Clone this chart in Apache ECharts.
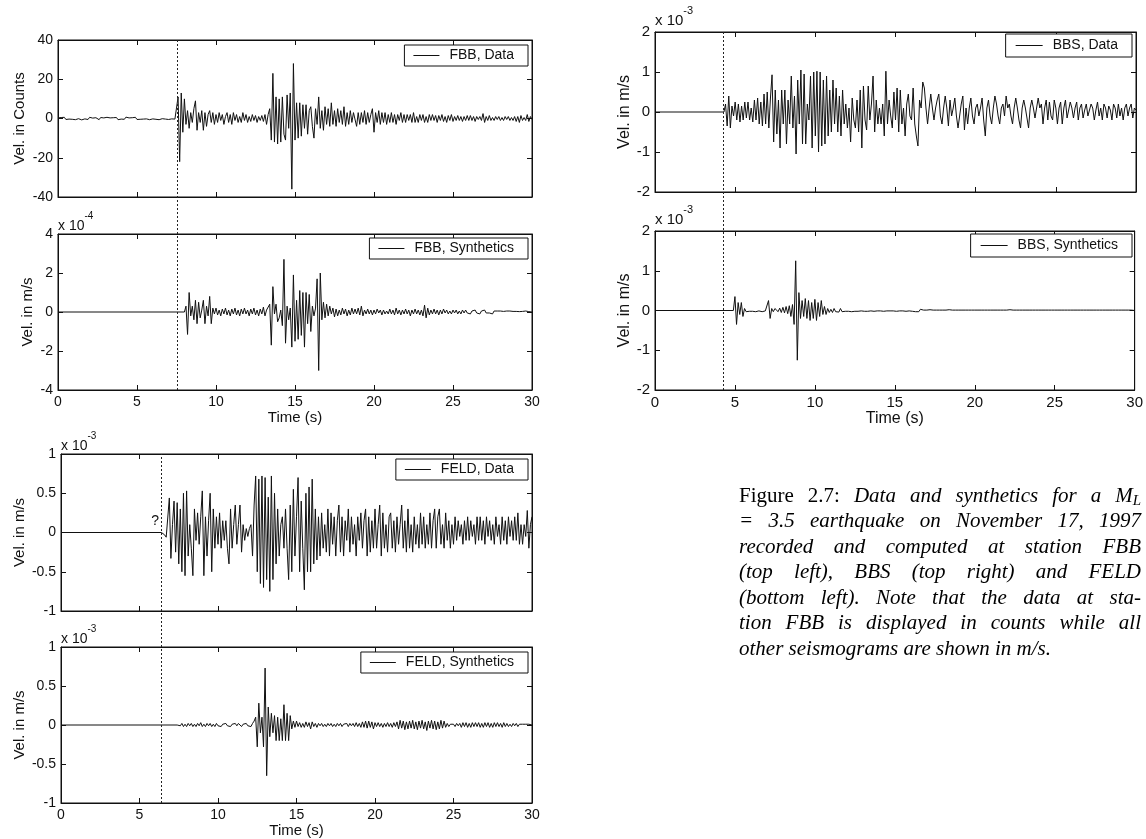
<!DOCTYPE html>
<html><head><meta charset="utf-8">
<script src="https://cdn.jsdelivr.net/npm/echarts@6/dist/echarts.min.js"></script>
<style>html,body{margin:0;padding:0;background:#fff}#chart{width:1146px;height:839px}</style>
</head><body><div id="chart"></div>
<script>
// ---------------- DATA ----------------
const STEP = 0.1;                 // sample interval of all traces (s)
const timeTicks = [0, 30, 5];     // time axis: min, max, interval

// FBB, Data (counts), samples from t = 0.0 s
const fbbDataStart = 0.0;
const fbbData = [
 0.3,-0.4,0.5,-0.2,0.6,-0.5,0.2,-0.3,0.7,-0.4,
 0.2,-0.6,0.4,-0.1,0.5,-0.7,0.3,-0.2,0.4,-0.5,
 0.6,-0.3,0.2,-0.5,0.4,0.1,-0.6,0.5,-0.3,0.3,
 -0.4,0.6,-0.2,0.3,-0.5,0.4,-0.3,0.5,-0.6,0.2,
 -0.3,0.5,-0.4,0.7,-0.2,0.3,-0.5,0.4,-0.3,0.6,
 -0.5,0.2,-0.4,0.5,-0.3,0.6,-0.2,0.4,-0.6,0.3,
 -0.2,0.5,-0.4,0.3,-0.6,0.4,-0.1,0.6,-0.3,0.2,
 -0.5,0.4,-0.2,0.6,-0.3,0.5,11,-22,13,-7,
 10,-3,4,-5,3,-2,5,9,-6,3,
 -2,4,-6,3,-4,2,4,-2,3,-3,
 2,-2,3,-1,2,-3,1,3,-2,2,
 -3,3,-1,2,-2,1,-2,3,-1,2,
 -2,1,-1.5,2,-1,1.5,-2,1,-1,1.5,
 -1.5,2,-3,2,5,-11,23,-12,11,-13,
 10,-12,11,-8,-11,12,-5,13,-36,28,
 -11,8,-10,8,-9,7,-5,7,-8,4,
 6,-4,-10,5,-3,11,-5,4,-6,6,
 -3,5,-4,8,-3,4,-4,5,-2,4,
 -3,6,-4,3,-3,4,-2,3,4,-4,
 3,-3,3,-2,4,-3,3,-2,2,5,
 -7,3,-2,4,-3,3,-2,3,-3,2,
 -2,3,-2,2,-3,2,-1,3,-2,2,
 -2,2,-1,2,-2,3,-2,1,-2,2,
 -1,2,-2,1,-2,2,-1,2,-1,1.5,
 -2,1.5,-1,2,-1.5,1,-2,1.5,-1,2,
 -1.5,1,-1,1.5,-1,1,-1.5,1,-1,1.5,
 -1,1.5,-1,1,-1.5,1,-0.5,1,-1,2.5,
 -2,1,-1,1.5,-1,0.5,-1,1,-0.5,1,
 -1,0.5,-1,1,-0.5,1,-1,0.5,-1,1,
 -1.5,1,-2,1.5,-1,0.5,-1,2,-1.5,1,
 -0.5
];

// FBB, Synthetics (x 10^-4 m/s), zero before t = 8.0 s
const fbbSynthStart = 8.0;
const fbbSynth = [
 0,0.3,-1.15,1.0,-0.2,0.3,-0.4,0.6,-0.6,0.5,
 -0.3,0.1,0.6,-0.6,0.3,-0.2,0.8,-0.6,0.2,-0.1,
 0.2,-0.15,0.1,-0.2,0.15,-0.1,0.2,-0.15,0.1,-0.2,
 0.15,-0.1,0.2,-0.15,0.1,-0.2,0.15,-0.1,0.2,-0.1,
 0.1,-0.2,0.15,-0.1,0.2,-0.15,0.1,-0.2,0.15,-0.1,
 0.25,-0.2,0.1,0.1,0.4,-1.7,1.3,-0.1,0.4,-0.5,
 -0.3,0.1,-0.7,2.7,-1.6,0.3,-0.4,0.2,-1.8,1.9,
 -1.5,0.6,-1.4,1.1,-1.2,1.0,-1.8,1.0,-0.6,0.9,
 -1.0,0.3,-0.2,0.2,1.7,-3.0,2.0,-0.4,0.5,-0.3,
 0.4,-0.2,0.3,-0.1,0.2,-0.25,0.15,-0.2,0.1,-0.15,
 0.2,-0.1,0.15,-0.2,0.1,-0.15,0.2,-0.1,0.15,-0.1,
 0.2,-0.15,0.3,-0.2,0.1,-0.1,0.15,-0.1,0.1,-0.15,
 0.1,-0.1,0.15,-0.05,0.1,-0.15,0.1,-0.1,0.05,-0.1,
 0.15,-0.1,0.1,-0.15,0.2,-0.1,0.1,-0.15,0.1,-0.1,
 0.15,-0.1,0.1,-0.2,0.1,-0.1,0.15,-0.1,0.1,-0.15,
 0.1,-0.2,0.35,-0.3,0.2,-0.15,0.1,-0.1,0.15,-0.1,
 0.1,-0.15,0.1,-0.1,0.15,-0.05,0.1,-0.1,0.05,-0.1,
 0.1,-0.05,0.1,-0.1,0.05,-0.1,0.1,-0.05,0.1,-0.05,
 0.05,-0.1,0.05,-0.05,0.1,-0.05,0.05,-0.1,0.05,-0.05,
 0.1,-0.05,0.05,-0.05,0.05,-0.1,0.05,-0.05,0.05,-0.05,
 0.05,-0.05,0.03,-0.05,0.05,-0.03,0.05,-0.05,0.03,-0.03,
 0.03,-0.03,0.02,-0.03,0.03,-0.02,0.05,-0.03,0.02,-0.05,
 0
];

// FELD, Data (x 10^-3 m/s), zero before t = 6.4 s
const feldDataStart = 6.4;
const feldData = [
 0,-0.01,-0.03,-0.06,-0.08,0.44,-0.33,0.1,0.4,-0.25,
 0.38,-0.4,0.3,-0.5,0.5,-0.55,0.53,-0.3,0.1,-0.2,
 -0.55,0.3,-0.1,0.25,-0.15,0.2,0.53,-0.55,0.2,-0.3,
 0.15,0.5,-0.5,0.3,-0.2,0.2,-0.15,0.25,-0.2,0.15,
 -0.1,0.15,-0.2,-0.4,0.3,-0.2,0.1,0.35,-0.15,0.1,
 0.35,-0.25,0.1,-0.1,0.05,-0.05,0.05,0.1,-0.3,0.35,
 0.72,-0.5,0.68,-0.65,0.72,-0.7,0.7,-0.6,0.45,-0.75,
 0.72,-0.6,0.5,-0.4,0.3,-0.3,0.1,0.2,-0.2,0.3,
 -0.2,-0.6,0.35,-0.5,0.55,-0.3,0.2,0.7,-0.5,0.4,
 -0.2,-0.73,0.5,-0.5,0.58,-0.5,0.68,-0.4,0.3,-0.35,
 0.2,-0.3,0.25,-0.2,0.1,-0.25,0.3,-0.3,0.25,-0.15,
 0.2,-0.3,0.15,0.35,-0.25,0.2,-0.3,0.15,-0.1,0.3,
 -0.25,0.2,-0.15,0.1,-0.3,0.2,-0.1,0.25,-0.2,0.15,
 0.3,-0.3,0.2,-0.25,0.15,-0.2,0.3,-0.2,0.1,0.35,
 -0.3,0.25,-0.2,0.1,-0.25,0.2,0.25,-0.2,0.15,-0.25,
 0.2,-0.15,0.1,0.35,-0.2,0.15,-0.25,0.3,-0.2,0.1,
 -0.25,0.2,-0.15,0.1,-0.2,0.25,-0.15,0.2,-0.2,0.1,
 -0.15,0.25,-0.2,0.15,0.3,-0.2,0.2,0.3,-0.15,0.1,
 -0.2,0.25,-0.1,0.15,-0.2,0.1,-0.15,0.2,-0.1,0.15,
 -0.05,0.1,-0.15,0.15,-0.1,0.2,-0.1,0.15,-0.05,0.1,
 -0.15,0.2,-0.1,0.2,-0.1,0.15,-0.15,0.2,-0.05,0.15,
 -0.1,0.1,-0.15,0.2,-0.05,0.1,-0.15,0.2,-0.1,0.15,
 -0.15,0.2,-0.05,0.15,-0.1,0.2,-0.1,0.25,-0.15,0.1,
 -0.15,0.1,-0.05,0.28,-0.2,0.1,0.2
];
const feldQuestion = { t: 6.0, v: 0.15, text: '?' };

// FELD, Synthetics (x 10^-3 m/s), zero before t = 7.4 s
const feldSynthStart = 7.4;
const feldSynth = [
 0,0.02,-0.01,0.02,-0.02,0.01,-0.02,0.02,-0.01,0.02,
 -0.02,0.01,-0.02,0.02,-0.01,0.03,-0.02,0.01,-0.02,0.02,
 -0.01,0.02,-0.02,0.01,-0.02,0.02,-0.01,0.01,-0.02,0.01,
 -0.01,0.02,-0.01,0.01,-0.02,0.01,-0.01,0.02,-0.01,0.02,
 0.03,-0.02,0.01,-0.01,0.02,-0.01,0.01,-0.02,0.02,0.05,
 0.1,-0.28,0.28,-0.1,0.1,-0.28,0.73,-0.65,0.23,-0.15,
 0.15,-0.1,0.12,-0.2,0.1,-0.2,0.08,-0.2,0.26,-0.2,
 0.15,-0.2,0.12,-0.05,0.05,-0.03,0.05,-0.02,0.03,-0.03,
 0.02,-0.03,0.04,-0.02,0.03,-0.05,0.04,-0.02,0.02,-0.03,
 0.02,-0.01,0.02,-0.02,0.01,-0.02,0.02,-0.01,0.02,-0.02,
 0.01,-0.02,0.02,-0.01,0.02,-0.02,0.01,-0.01,0.02,-0.02,
 0.02,-0.01,0.02,-0.02,0.03,-0.02,0.02,-0.03,0.04,-0.03,
 0.05,-0.04,0.05,-0.03,0.04,-0.05,0.03,-0.02,0.03,-0.02,
 0.02,-0.03,0.02,-0.02,0.03,-0.02,0.02,-0.03,0.03,-0.02,
 0.04,-0.05,0.06,-0.04,0.05,-0.06,0.04,-0.05,0.05,-0.04,
 0.06,-0.05,0.04,-0.06,0.05,-0.04,0.06,-0.05,0.04,-0.07,
 0.05,-0.04,0.06,-0.05,0.05,-0.06,0.04,-0.05,0.06,-0.04,
 0.05,-0.03,0.02,-0.02,0.01,-0.01,0.01,-0.02,0.02,-0.01,
 0.02,-0.03,0.03,-0.02,0.03,-0.03,0.02,-0.03,0.03,-0.02,
 0.03,-0.02,0.03,-0.03,0.02,-0.03,0.03,-0.02,0.03,-0.03,
 0.02,-0.03,0.03,-0.02,0.03,-0.02,0.02,-0.03,0.03,-0.02,
 0.02,-0.02,0.01,-0.02,0.02,-0.01,0.02,-0.02,0.01,-0.01,
 0.01,-0.01,0.01,-0.01,0.01,-0.01,0
];

// BBS, Data (x 10^-3 m/s), zero before t = 4.3 s
const bbsDataStart = 4.3;
const bbsData = [
 0,0.2,-0.35,0.4,-0.4,0.15,-0.1,0.25,-0.2,0.2,
 -0.25,0.15,-0.2,0.25,-0.15,0.25,-0.2,0.1,-0.25,0.3,
 -0.2,0.35,-0.3,0.25,-0.35,0.45,-0.3,0.5,-0.4,0.35,
 0.93,-0.75,0.55,-0.55,0.3,-0.9,0.55,-0.3,0.55,-0.8,
 0.3,-0.3,0.9,-0.4,0.4,-1.05,0.8,-0.3,1.05,-0.8,
 0.95,-0.8,0.2,-0.2,0.9,-0.9,1.0,-0.6,1.02,-1.0,
 1.0,-0.85,0.8,-0.8,0.9,-0.6,0.55,-0.5,0.8,-0.3,
 0.6,-0.5,0.4,-0.6,0.55,-0.3,0.2,-0.4,0.1,-0.75,
 0.35,-0.2,-0.4,0.3,-0.5,0.55,-0.9,0.65,-0.2,-0.45,
 0.65,-0.2,0.2,0.9,-0.5,0.3,-0.3,0.1,-0.3,0.2,
 -0.6,1.02,-0.3,0.3,-0.1,-0.4,0.5,-0.2,0.6,-0.5,
 0.55,-0.3,0.1,-0.6,0.2,0.45,-0.1,-0.2,0.6,-0.3,
 -0.6,-0.85,0.3,0.1,0.75,0.6,0.1,-0.3,0.1,0.45,
 0.1,-0.2,0.1,0.3,0.45,-0.1,-0.3,0.1,0.4,0.1,
 -0.35,0.3,-0.1,0.1,0.35,-0.1,-0.4,-0.1,0.2,0.4,
 -0.45,0.1,-0.3,0.1,0.35,-0.1,-0.3,0.1,0.2,-0.1,
 0.1,0.35,-0.2,-0.6,0.1,0.3,-0.1,-0.3,0.1,0.4,
 0.2,-0.1,-0.3,0.1,0.2,-0.1,0.4,0.1,0.2,-0.1,
 -0.3,0.1,0.35,0.1,-0.2,-0.4,0.1,0.3,0.1,-0.15,
 -0.4,0.1,0.3,0.1,-0.15,0.1,0.35,0.1,0.2,-0.3,
 0.1,0.3,-0.2,0.25,-0.1,-0.2,0.3,0.1,-0.3,0.1,
 0.25,-0.3,0.1,0.3,-0.15,-0.2,0.25,0.1,-0.15,0.1,
 0.25,-0.2,0.1,0.2,-0.15,0.05,0.2,-0.1,-0.15,0.2,
 0.1,-0.2,0.05,0.25,-0.1,0.1,-0.2,0.2,0.1,-0.15,
 0.15,0.05,-0.2,0.2,0.1,-0.15,0.2,-0.1,0.1,-0.2,
 0.1,0.2,-0.1,0.1,0.2,-0.15,0.1,0.05
];

// BBS, Synthetics (x 10^-3 m/s), zero before t = 4.9 s
const bbsSynthStart = 4.9;
const bbsSynth = [
 0,0.35,-0.35,0.2,-0.1,0.2,-0.15,0.05,-0.03,0.02,
 -0.02,0.03,-0.02,0.01,-0.03,0.02,-0.01,0.02,-0.03,0.02,
 -0.01,0.02,0.25,-0.2,0.05,-0.03,0.05,0.02,-0.03,0.06,
 -0.05,0.08,-0.06,0.1,-0.08,0.12,-0.15,0.15,-0.35,1.25,
 -1.25,0.45,-0.2,0.25,-0.15,0.3,-0.2,0.25,-0.25,0.2,
 -0.2,0.28,-0.25,0.2,-0.15,0.25,-0.1,0.1,-0.1,0.05,
 -0.05,0.03,-0.05,0.05,-0.03,0.02,-0.04,0.05,-0.03,0.02,
 -0.02,0.03,-0.02,0.02,-0.03,0.02,-0.02,0.01,-0.02,0.02,
 -0.01,0.02,-0.02,0.01,-0.02,0.02,-0.01,0.01,-0.02,0.01,
 -0.01,0.02,-0.01,0.01,-0.02,0.01,-0.01,0.02,-0.01,0.01,
 -0.01,0.01,-0.02,0.01,-0.01,0.02,-0.01,0.01,-0.02,0.01,
 -0.01,0.02,-0.02,0.03,-0.03,0.02,-0.03,0.03,-0.02,0.01,
 -0.01,0.01,-0.01,0.02,-0.01,0.01,-0.01,0.01,-0.02,0.01,
 -0.01,0.01,-0.01,0.01,-0.01,0.02,-0.01,0.01,-0.01,0.01,
 -0.01,0.01,-0.01,0.01,-0.01,0.01,-0.01,0.01,-0.01,0.01,
 -0.01,0.01,-0.01,0.01,-0.01,0.01,-0.02,0.01,-0.01,0.01,
 -0.01,0.01,-0.01,0.01,-0.01,0.01,-0.01,0.01,-0.01,0.01,
 -0.01,0.01,-0.01,0.02,-0.01,0.01,-0.01,0.01,-0.01,0.01,
 -0.01,0.01,-0.01,0.01,-0.01,0.01,-0.01,0.01,-0.01,0.01,
 -0.01,0.01,-0.01,0.01,-0.01,0.01,-0.01,0.01,-0.01,0.01,
 -0.01,0.01,-0.01,0.01,-0.01,0.01,-0.01,0.01,-0.01,0.01,
 -0.01,0.01,-0.01,0.01,-0.01,0.01,-0.01,0.01,-0.01,0.01,
 -0.01,0.01,-0.01,0.01,-0.01,0.01,-0.01,0.01,-0.01,0.01,
 -0.01,0.01,-0.01,0.01,-0.01,0.01,-0.01,0.01,-0.01,0.01,
 -0.01,0.01,-0.01,0.01,-0.01,0.01,-0.01,0.01,-0.01,0.01,
 -0.01,0
];

// picked onsets (dashed lines), seconds
const onsetFBB = 7.55;
const onsetFELD = 6.4;
const onsetBBS = 4.25;

// tick labels / axis ranges [min, max, interval]
const yFBBData = [-40, 40, 20];
const yFBBSynth = [-4, 4, 2];
const yFELD = [-1, 1, 0.5];
const yBBS = [-2, 2, 1];

const captionLines = [
  'Figure 2.7: Data and synthetics for a M_L',
  '= 3.5 earthquake on November 17, 1997',
  'recorded and computed at station FBB',
  '(top left), BBS (top right) and FELD',
  '(bottom left). Note that the data at sta-',
  'tion FBB is displayed in counts while all',
  'other seismograms are shown in m/s.'
];

// ---------------- LAYOUT / STYLE ----------------
const W = 1146;
const FONT = "'Liberation Sans', Arial, Helvetica, sans-serif";
const SERIF = "'Liberation Serif', 'Times New Roman', serif";
const INK = '#111';

function trace(start, values) {
  const d = [];
  if (start > 0) d.push([0, 0]);
  values.forEach((v, i) => d.push([Math.round((start + i * STEP) * 100) / 100, v]));
  return d;
}

const panels = [
  { label: 'FBB, Data', data: trace(fbbDataStart, fbbData), y: yFBBData, yName: 'Vel. in Counts', exp: null,
    box: { left: 58, top: 40, width: 474, height: 157 }, yGap: 31, showX: false, fs: 14, nfs: 15, lfs: 14, legTop: 45, expGap: 1 },
  { label: 'FBB, Synthetics', data: trace(fbbSynthStart, fbbSynth), y: yFBBSynth, yName: 'Vel. in m/s', exp: '-4',
    box: { left: 58, top: 234, width: 474, height: 156 }, yGap: 23, showX: true, fs: 14, nfs: 15, lfs: 14, legTop: 238, expGap: 1 },
  { label: 'FELD, Data', data: trace(feldDataStart, feldData), y: yFELD, yName: 'Vel. in m/s', exp: '-3',
    box: { left: 61, top: 454, width: 471, height: 157 }, yGap: 34, showX: false, fs: 14, nfs: 15, lfs: 14, legTop: 459, question: true, expGap: 1 },
  { label: 'FELD, Synthetics', data: trace(feldSynthStart, feldSynth), y: yFELD, yName: 'Vel. in m/s', exp: '-3',
    box: { left: 61, top: 647, width: 471, height: 156 }, yGap: 34, showX: true, fs: 14, nfs: 15, lfs: 14, legTop: 652, expGap: 1 },
  { label: 'BBS, Data', data: trace(bbsDataStart, bbsData), y: yBBS, yName: 'Vel. in m/s', exp: '-3',
    box: { left: 655, top: 32, width: 481, height: 160 }, yGap: 22, showX: false, fs: 15, nfs: 16, lfs: 14, legTop: 34, expGap: 4 },
  { label: 'BBS, Synthetics', data: trace(bbsSynthStart, bbsSynth), y: yBBS, yName: 'Vel. in m/s', exp: '-3',
    box: { left: 655, top: 231, width: 481, height: 159 }, yGap: 22, showX: true, fs: 15, nfs: 16, lfs: 14, legTop: 234, expGap: 4 }
];

const dashGroups = [
  { onset: onsetFBB, box: { left: 58, top: 40, width: 474, height: 350 } },
  { onset: onsetFELD, box: { left: 61, top: 454, width: 471, height: 349 } },
  { onset: onsetBBS, box: { left: 655, top: 32, width: 481, height: 358 } }
];

const option = { animation: false, backgroundColor: '#fff', grid: [], xAxis: [], yAxis: [], series: [], legend: [], graphic: [] };

panels.forEach((p, i) => {
  option.grid.push(Object.assign({ show: true, borderColor: INK, borderWidth: 1, backgroundColor: 'transparent' }, p.box));
  const line = { show: true, onZero: false, lineStyle: { color: INK, width: 1 } };
  const tick = { show: true, inside: true, length: 5, lineStyle: { color: INK, width: 1 } };
  const xBase = { type: 'value', gridIndex: i, min: timeTicks[0], max: timeTicks[1], interval: timeTicks[2],
    splitLine: { show: false }, axisLine: line, axisTick: tick };
  option.xAxis.push(Object.assign({}, xBase, {
    position: 'bottom',
    axisLabel: { show: p.showX, fontSize: p.fs, fontFamily: FONT, color: INK, margin: 5 },
    name: p.showX ? 'Time (s)' : '', nameLocation: 'middle', nameGap: 20,
    nameTextStyle: { fontSize: p.nfs, fontFamily: FONT, color: INK }
  }));
  option.xAxis.push(Object.assign({}, xBase, { position: 'top', axisLabel: { show: false } }));
  const yBase = { type: 'value', gridIndex: i, min: p.y[0], max: p.y[1], interval: p.y[2],
    splitLine: { show: false }, axisLine: line, axisTick: tick };
  option.yAxis.push(Object.assign({}, yBase, {
    position: 'left',
    axisLabel: { fontSize: p.fs, fontFamily: FONT, color: INK, margin: 5 },
    name: p.yName, nameLocation: 'middle', nameGap: p.yGap,
    nameTextStyle: { fontSize: p.nfs, fontFamily: FONT, color: INK }
  }));
  option.yAxis.push(Object.assign({}, yBase, { position: 'right', axisLabel: { show: false } }));
  option.yAxis.push({
    type: 'value', gridIndex: i, min: p.y[0], max: p.y[1], position: 'left',
    axisLine: { show: false }, axisTick: { show: false }, axisLabel: { show: false }, splitLine: { show: false },
    name: p.exp ? '{a|x 10}{b|' + p.exp + '}' : '', nameLocation: 'end', nameGap: p.expGap,
    nameTextStyle: {
      align: 'left', verticalAlign: 'bottom',
      rich: {
        a: { fontSize: p.fs, fontFamily: FONT, color: INK, lineHeight: p.fs + 8, verticalAlign: 'bottom' },
        b: { fontSize: p.fs - 4, fontFamily: FONT, color: INK, lineHeight: p.fs - 2, verticalAlign: 'top' }
      }
    }
  });
  const s = {
    type: 'line', name: p.label, xAxisIndex: 2 * i, yAxisIndex: 3 * i, data: p.data,
    symbol: 'none', showSymbol: false, silent: true, animation: false,
    lineStyle: { color: INK, width: 1 }, itemStyle: { color: INK }
  };
  if (p.question) {
    s.markPoint = {
      silent: true, symbol: 'circle', symbolSize: 1, itemStyle: { color: 'rgba(0,0,0,0)' },
      label: { show: true, position: 'inside', formatter: feldQuestion.text, fontSize: 14, fontFamily: FONT, color: INK },
      data: [{ coord: [feldQuestion.t, feldQuestion.v] }]
    };
  }
  option.series.push(s);
  const big = p.fs > 14;
  option.legend.push({
    data: [p.label], selectedMode: false, icon: 'rect',
    right: W - (p.box.left + p.box.width) + 4, top: p.legTop,
    backgroundColor: '#fff', borderColor: INK, borderWidth: 1, borderRadius: 0,
    padding: big ? [4, 14, 4, 10] : [3, 14, 3, 9],
    itemWidth: big ? 27 : 26, itemHeight: 1,
    textStyle: { fontSize: p.lfs, fontFamily: FONT, color: INK, padding: [0, 0, 0, 5], lineHeight: p.lfs + 1 }
  });
});

// dashed onset lines spanning the data + synthetics pair
dashGroups.forEach((g, k) => {
  const gi = panels.length + k;
  option.grid.push(Object.assign({ show: false }, g.box));
  option.xAxis.push({ type: 'value', gridIndex: gi, min: timeTicks[0], max: timeTicks[1], show: false });
  option.yAxis.push({ type: 'value', gridIndex: gi, min: 0, max: 1, show: false });
  option.series.push({
    type: 'line', xAxisIndex: option.xAxis.length - 1, yAxisIndex: option.yAxis.length - 1,
    data: [], silent: true, symbol: 'none',
    markLine: {
      silent: true, symbol: ['none', 'none'], label: { show: false },
      lineStyle: { type: [2, 2], color: '#222', width: 1 },
      data: [{ xAxis: g.onset }]
    }
  });
});

// caption (justified lines)
const CAP = { left: 739, right: 1141, top: 496, lh: 25.5, size: 21 };
const ctx = document.createElement('canvas').getContext('2d');
const fItal = 'italic ' + CAP.size + 'px ' + SERIF;
const fRom = CAP.size + 'px ' + SERIF;
const fSub = 'italic ' + Math.round(CAP.size * 0.7) + 'px ' + SERIF;
function mw(t, f) { ctx.font = f; return ctx.measureText(t).width; }
captionLines.forEach((ln, k) => {
  const words = ln.split(' ');
  const pieces = words.map((w, j) => {
    const roman = (k === 0 && j < 2);
    if (w === 'M_L') return { parts: [{ t: 'M', f: fItal, dy: 0 }, { t: 'L', f: fSub, dy: 5 }] };
    return { parts: [{ t: w, f: roman ? fRom : fItal, dy: 0 }] };
  });
  pieces.forEach(pc => { pc.w = pc.parts.reduce((a, q) => a + mw(q.t, q.f), 0); });
  const total = pieces.reduce((a, pc) => a + pc.w, 0);
  const last = k === captionLines.length - 1;
  const gap = last ? mw(' ', fItal) : (CAP.right - CAP.left - total) / (pieces.length - 1);
  let x = CAP.left;
  const y = CAP.top + k * CAP.lh;
  pieces.forEach(pc => {
    let xx = x;
    pc.parts.forEach(q => {
      option.graphic.push({ type: 'text', x: xx, y: y + q.dy, silent: true,
        style: { text: q.t, font: q.f, fill: '#000', verticalAlign: 'middle', align: 'left' } });
      xx += mw(q.t, q.f);
    });
    x += pc.w + gap;
  });
});

const chart = echarts.init(document.getElementById('chart'), null, { renderer: 'canvas' });
chart.setOption(option);
</script>
</body></html>
